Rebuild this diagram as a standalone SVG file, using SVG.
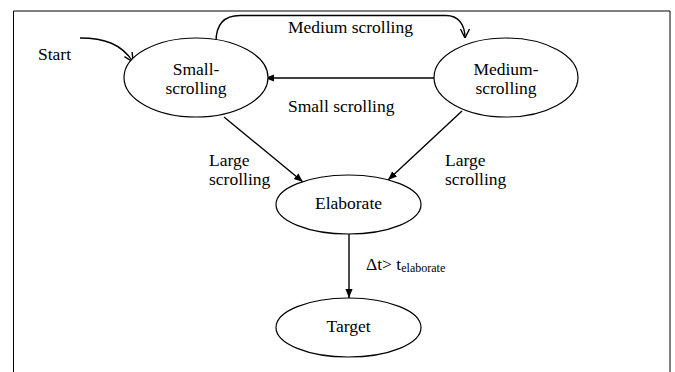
<svg xmlns="http://www.w3.org/2000/svg" width="675" height="372" viewBox="0 0 675 372">
<style>
text{font-family:'Liberation Serif','Tinos','Times New Roman','DejaVu Serif',serif;font-size:17.5px;fill:#000}
.n{text-anchor:middle}
.node ellipse{fill:#fff;stroke:#000;stroke-width:1.2}
.e{fill:none;stroke:#000;stroke-width:1.4}
</style>
<defs>
<marker id="fa" viewBox="0 0 10 10" refX="10" refY="5" markerWidth="9" markerHeight="9" markerUnits="userSpaceOnUse" orient="auto"><path d="M0,1 L10,5 L0,9 Z" fill="#000"/></marker>
<marker id="oa" viewBox="0 0 10 10" refX="10" refY="5" markerWidth="10" markerHeight="10" markerUnits="userSpaceOnUse" orient="auto"><path d="M1,0.5 L10,5 L1,9.5" fill="none" stroke="#000" stroke-width="1.4"/></marker>
</defs>
<rect x="0" y="0" width="675" height="372" fill="#fff"/>
<path d="M13.5,372 V11 H670 V372" fill="none" stroke="#000" stroke-width="1"/>
<g id="connectors">
<path class="e" d="M80,38 C104,38 122,44 133,62" marker-end="url(#oa)"/>
<path class="e" d="M216,42 C216,24 224,15.5 240,15.5 H446 C458,15.5 465,24 465,38" marker-end="url(#oa)"/>
<path class="e" d="M434,78 H265" marker-end="url(#fa)"/>
<path class="e" d="M224,117 L303,182" marker-end="url(#fa)"/>
<path class="e" d="M462,111 L388,180" marker-end="url(#fa)"/>
<path class="e" d="M349,234 V298" marker-end="url(#fa)"/>
<text x="38" y="60">Start</text>
<text x="288" y="33">Medium scrolling</text>
<text x="288" y="112">Small scrolling</text>
<text x="209" y="166">Large</text>
<text x="209" y="185">scrolling</text>
<text x="445" y="166">Large</text>
<text x="445" y="185">scrolling</text>
<text x="366" y="270">Δt&gt; t<tspan font-size="12" dy="2">elaborate</tspan></text>
</g>
<g id="small" class="node"><ellipse cx="196" cy="77.5" rx="72" ry="39.5"/><text class="n" x="196" y="74.5">Small-</text><text class="n" x="196" y="93.5">scrolling</text></g>
<g id="medium" class="node"><ellipse cx="506" cy="77.5" rx="72" ry="39.5"/><text class="n" x="506" y="74.5">Medium-</text><text class="n" x="506" y="93.5">scrolling</text></g>
<g id="elaborate" class="node"><ellipse cx="348.5" cy="204.5" rx="72.5" ry="29.5"/><text class="n" x="348.5" y="209">Elaborate</text></g>
<g id="target" class="node"><ellipse cx="348.5" cy="327.5" rx="72.5" ry="29.5"/><text class="n" x="348.5" y="332">Target</text></g>
</svg>
